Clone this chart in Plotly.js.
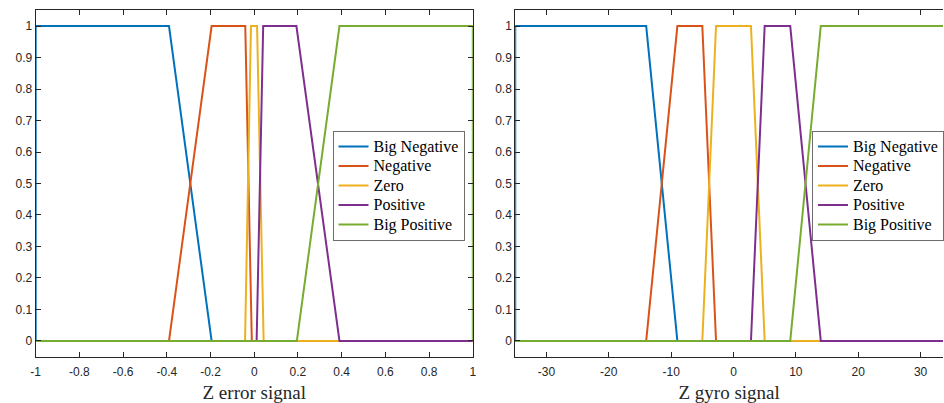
<!DOCTYPE html>
<html>
<head>
<meta charset="utf-8">
<script src="https://cdn.plot.ly/plotly-3.0.1.min.js"></script>
<style>html,body{margin:0;padding:0;background:#fff;}#chart{width:944px;height:403px;}</style>
</head>
<body>
<div id="chart"></div>
<script>
// ---- data ----
const seriesNames = ["Big Negative", "Negative", "Zero", "Positive", "Big Positive"];
const seriesColors = ["#0072BD", "#D95319", "#EDB120", "#7E2F8E", "#77AC30"];

// Z error signal: trapezoid breakpoints [a, b, c, d]
const errRange = [-1, 1];
const errBigNeg = [-1, -1, -0.39, -0.195];
const errNeg = [-0.39, -0.195, -0.041, -0.011];
const errZero = [-0.042, -0.015, 0.013, 0.043];
const errPos = [0.011, 0.041, 0.193, 0.39];
const errBigPos = [0.195, 0.39, 1, 1];

// Z gyro signal: trapezoid breakpoints [a, b, c, d]
const gyroRange = [-35, 35];
const gyroBigNeg = [-35, -35, -14, -9];
const gyroNeg = [-14, -9, -5, -2.8];
const gyroZero = [-5, -2.8, 2.8, 5];
const gyroPos = [2.8, 5, 9.1, 14];
const gyroBigPos = [9.1, 14, 35, 35];

const yTickVals = [0, 0.1, 0.2, 0.3, 0.4, 0.5, 0.6, 0.7, 0.8, 0.9, 1];
const yTickText = ["0", "0.1", "0.2", "0.3", "0.4", "0.5", "0.6", "0.7", "0.8", "0.9", "1"];
const errTickVals = [-1, -0.8, -0.6, -0.4, -0.2, 0, 0.2, 0.4, 0.6, 0.8, 1];
const errTickText = ["-1", "-0.8", "-0.6", "-0.4", "-0.2", "0", "0.2", "0.4", "0.6", "0.8", "1"];
const gyroTickVals = [-30, -20, -10, 0, 10, 20, 30];
const gyroTickText = ["-30", "-20", "-10", "0", "10", "20", "30"];

// ---- build ----
function trap(p, range) {
  return { x: [range[0], p[0], p[1], p[2], p[3], range[1]], y: [0, 0, 1, 1, 0, 0] };
}
function legName(s) { return '<span style="font-size:16px">' + s + '</span>'; }
const traces = [];
const errSets = [errBigNeg, errNeg, errZero, errPos, errBigPos];
const gyroSets = [gyroBigNeg, gyroNeg, gyroZero, gyroPos, gyroBigPos];
errSets.forEach((p, i) => {
  const t = trap(p, errRange);
  traces.push({ x: t.x, y: t.y, type: "scatter", mode: "lines", name: legName(seriesNames[i]),
    line: { color: seriesColors[i], width: 2 }, xaxis: "x", yaxis: "y", legend: "legend" });
});
gyroSets.forEach((p, i) => {
  const t = trap(p, gyroRange);
  traces.push({ x: t.x, y: t.y, type: "scatter", mode: "lines", name: legName(seriesNames[i]),
    line: { color: seriesColors[i], width: 2 }, xaxis: "x2", yaxis: "y2", legend: "legend2" });
});

const axColor = "#262626";
const tickFont = { family: "Liberation Sans", size: 12, color: axColor };
const titleFont = { family: "Liberation Serif", size: 19, color: axColor };
const legFont = { family: "Liberation Serif", size: 12.7, color: "#000" };

function xax(domain, range, tv, tt, title, mirror) {
  return { domain: domain, range: range, tickmode: "array", tickvals: tv, ticktext: tt,
    ticks: "inside", ticklen: 5, tickcolor: axColor, tickwidth: 1, showline: true, linecolor: axColor, linewidth: 1,
    mirror: mirror, showgrid: false, zeroline: false, tickfont: tickFont, ticklabelstandoff: 4,
    title: { text: title, font: titleFont, standoff: 8 }, fixedrange: true };
}
function yax(domain, anchor, mirror) {
  return { domain: domain, range: [-0.05, 1.05], anchor: anchor, tickmode: "array", tickvals: yTickVals, ticktext: yTickText,
    ticks: "inside", ticklen: 5, tickcolor: axColor, tickwidth: 1, showline: true, linecolor: axColor, linewidth: 1,
    mirror: mirror, showgrid: false, zeroline: false, tickfont: tickFont, fixedrange: true };
}

const yDom = [1 - 356.7 / 403, 1 - 10.3 / 403];
const legTop = 1 - 130.8 / 403;
const layout = {
  width: 944, height: 403,
  margin: { l: 0, r: 0, t: 0, b: 0 },
  paper_bgcolor: "#fff", plot_bgcolor: "#fff",
  showlegend: true,
  xaxis: Object.assign(xax([35.7 / 944, 473.3 / 944], errRange, errTickVals, errTickText, "Z error signal", "ticks"), { anchor: "y" }),
  yaxis: yax(yDom, "x", "ticks"),
  xaxis2: Object.assign(xax([515.8 / 944, 1], [-35, 33.6], gyroTickVals, gyroTickText, "Z gyro signal", "ticks"), { anchor: "y2" }),
  yaxis2: yax(yDom, "x2", false),
  legend: { x: 332.5 / 944, y: legTop, xanchor: "left", yanchor: "top", bgcolor: "#fff",
    bordercolor: "#6e6e6e", borderwidth: 1, font: legFont, tracegroupgap: 0 },
  legend2: { x: 812.5 / 944, y: legTop, xanchor: "left", yanchor: "top", bgcolor: "#fff",
    bordercolor: "#6e6e6e", borderwidth: 1, font: legFont, tracegroupgap: 0 }
};

Plotly.newPlot("chart", traces, layout, { staticPlot: true, displayModeBar: false });
</script>
</body>
</html>
